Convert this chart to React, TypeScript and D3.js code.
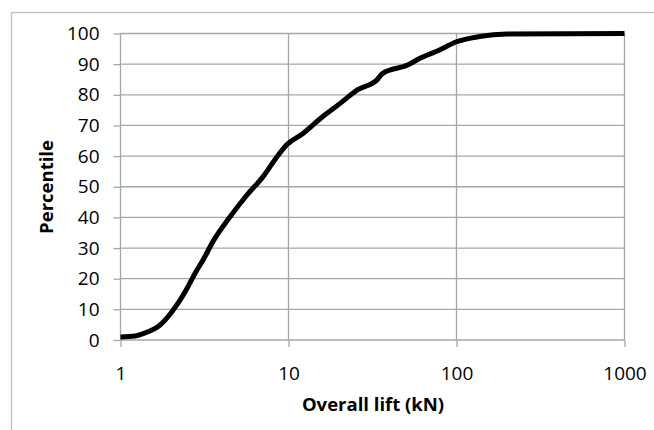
import * as d3 from 'd3';
import React, { useEffect, useRef } from 'react';

// values
const liftKN = [1, 1.22, 1.46, 1.67, 1.92, 2.2, 2.52, 2.78, 3.1, 3.55, 4.49, 5.66, 7.06, 8.55, 9.73, 12.2, 16, 20.3, 25.7, 33.5, 36.4, 51.2, 60.6, 79.3, 100, 137, 200, 1000];
const percentile = [1, 1.3, 2.7, 4.3, 7.6, 12, 17.4, 21.8, 26.1, 32.1, 40.2, 47.3, 53.3, 59.8, 63.6, 67.4, 72.9, 77.2, 81.6, 84.8, 87, 89.7, 91.9, 94.6, 97.3, 99, 99.8, 100];
const xTicks = [1, 10, 100, 1000];
const yTicks = [0, 10, 20, 30, 40, 50, 60, 70, 80, 90, 100];

const width = 654;
const height = 430;
const margin = { top: 33.5, right: 29.5, bottom: 90, left: 120.5 };
const font = '"Open Sans", sans-serif';
const gridColor = '#a6a6a6';

export default function App() {
	const ref = useRef<SVGSVGElement>(null);

	useEffect(() => {
		const svg = d3.select(ref.current);
		svg.selectAll('*').remove();

		const x = d3.scaleLog().domain([1, 1000]).range([margin.left, width - margin.right]);
		const y = d3.scaleLinear().domain([0, 100]).range([height - margin.bottom, margin.top]);

		// chart border
		svg.append('rect')
			.attr('x', 11.5)
			.attr('y', 12.5)
			.attr('width', 660)
			.attr('height', 440)
			.attr('fill', 'none')
			.attr('stroke', '#bfbfbf')
			.attr('stroke-width', 1.3);

		// horizontal grid + y axis
		const yAxis = svg.append('g')
			.attr('transform', `translate(${margin.left},0)`)
			.call(d3.axisLeft(y).tickValues(yTicks).tickSize(7).tickPadding(14).tickFormat(d3.format('d')))
			.call((g: any) => g.select('.domain').remove());
		yAxis.selectAll('line').attr('stroke', gridColor).attr('stroke-width', 1.3);
		yAxis.selectAll('text').attr('font-family', font).attr('font-size', 19).attr('fill', '#000');

		svg.append('g')
			.selectAll('line')
			.data(yTicks)
			.join('line')
			.attr('x1', margin.left)
			.attr('x2', width - margin.right)
			.attr('y1', (d: number) => y(d))
			.attr('y2', (d: number) => y(d))
			.attr('stroke', gridColor)
			.attr('stroke-width', 1.3);

		// vertical grid + x axis
		const xAxis = svg.append('g')
			.attr('transform', `translate(0,${height - margin.bottom})`)
			.call(d3.axisBottom(x).tickValues(xTicks).tickSize(7).tickPadding(20).tickFormat(d3.format('d')))
			.call((g: any) => g.select('.domain').remove());
		xAxis.selectAll('line').attr('stroke', gridColor).attr('stroke-width', 1.3);
		xAxis.selectAll('text').attr('font-family', font).attr('font-size', 19).attr('fill', '#000');

		svg.append('g')
			.selectAll('line')
			.data(xTicks)
			.join('line')
			.attr('x1', (d: number) => x(d))
			.attr('x2', (d: number) => x(d))
			.attr('y1', margin.top)
			.attr('y2', height - margin.bottom)
			.attr('stroke', gridColor)
			.attr('stroke-width', 1.3);

		// curve
		const line = d3.line<number>()
			.x((d: number) => x(d))
			.y((d: number, i: number) => y(percentile[i]))
			.curve(d3.curveMonotoneX);

		svg.append('path')
			.datum(liftKN)
			.attr('d', line)
			.attr('fill', 'none')
			.attr('stroke', '#000')
			.attr('stroke-width', 5)
			.attr('stroke-linejoin', 'round');

		// axis titles
		svg.append('text')
			.attr('x', 373)
			.attr('y', 411)
			.attr('text-anchor', 'middle')
			.attr('font-family', font)
			.attr('font-weight', 'bold')
			.attr('font-size', 18.5)
			.text('Overall lift (kN)');

		svg.append('text')
			.attr('transform', `translate(53,187) rotate(-90)`)
			.attr('text-anchor', 'middle')
			.attr('font-family', font)
			.attr('font-weight', 'bold')
			.attr('font-size', 18.5)
			.text('Percentile');
	}, []);

	return (
		<svg
			ref={ref}
			width={width}
			height={height}
			style={{ position: 'absolute', left: 0, top: 0, background: '#fff' }}
		/>
	);
}
